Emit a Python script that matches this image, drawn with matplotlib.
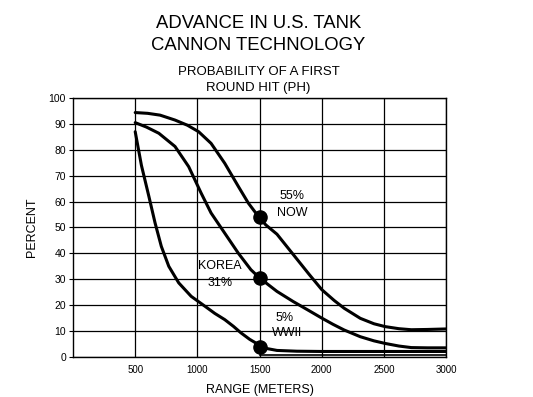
import matplotlib.pyplot as plt

plt.rcParams['font.family'] = ['Liberation Sans', 'DejaVu Sans']

# ranges (m) and hit probability (%)
now_x = [500, 600, 700, 820, 920, 1010, 1110, 1220, 1330, 1410, 1490, 1550, 1640, 1770, 1900, 2000, 2100, 2180, 2310, 2420, 2510, 2620, 2720, 2850, 3000]
now_y = [94.4, 94.1, 93.4, 91.5, 89.5, 87, 82.5, 74.8, 65.8, 59.4, 54.3, 51, 47.4, 39.6, 31.8, 26, 21.8, 18.8, 14.9, 12.8, 11.7, 10.9, 10.5, 10.6, 10.8]

korea_x = [500, 590, 690, 820, 930, 1030, 1110, 1220, 1330, 1430, 1500, 1640, 1770, 1900, 2000, 2090, 2180, 2310, 2420, 2510, 2620, 2720, 2850, 3000]
korea_y = [90.5, 88.8, 86.4, 81.3, 73.5, 63.3, 55.6, 47.8, 40, 33.7, 30.5, 25.3, 21.4, 17.8, 15, 12.6, 10.4, 7.8, 6.2, 5.2, 4.2, 3.6, 3.5, 3.5]

wwii_x = [500, 550, 610, 660, 710, 770, 850, 950, 1060, 1140, 1220, 1290, 1350, 1420, 1490, 1540, 1640, 1800, 2000, 2500, 3000]
wwii_y = [87, 74, 62, 51.7, 42.7, 35, 28.6, 23.4, 19.6, 16.8, 14.4, 11.8, 9.3, 6.8, 4.8, 3.4, 2.5, 2.2, 2.1, 2.1, 2.1]

dot_x = [1500, 1500, 1500]
dot_y = [54.2, 30.5, 4]

x_ticks = [500, 1000, 1500, 2000, 2500, 3000]
y_ticks = [0, 10, 20, 30, 40, 50, 60, 70, 80, 90, 100]

fig = plt.figure(figsize=(5.33, 3.97), dpi=100)
ax = fig.add_axes([0.137, 0.101, 0.700, 0.652])

for xs, ys in [(now_x, now_y), (korea_x, korea_y), (wwii_x, wwii_y)]:
    ax.plot(xs, ys, color='black', lw=2.2, solid_joinstyle='round', solid_capstyle='round')
ax.plot([1500, 3000], [0.7, 0.7], color='black', lw=1.2)
ax.scatter(dot_x, dot_y, s=90, color='black', zorder=5)

ax.set_xlim(0, 3000)
ax.set_ylim(0, 100)
ax.set_xticks(x_ticks)
ax.set_yticks(y_ticks)
ax.tick_params(axis='x', labelsize=7, length=0, pad=6)
ax.tick_params(axis='y', labelsize=7.5, length=3, pad=2)
ax.grid(True, color='black', lw=0.9)
for s in ax.spines.values():
    s.set_linewidth(1.0)

ax.text(1760, 62, '55%', fontsize=9, ha='center', va='center')
ax.text(1760, 55.5, 'NOW', fontsize=9, ha='center', va='center')
ax.text(1180, 35, 'KOREA', fontsize=9, ha='center', va='center')
ax.text(1180, 28.5, '31%', fontsize=9, ha='center', va='center')
ax.text(1700, 15, '5%', fontsize=9, ha='center', va='center')
ax.text(1720, 9.3, 'WWII', fontsize=9, ha='center', va='center')

ax.set_ylabel('PERCENT', fontsize=9, labelpad=8)
ax.set_xlabel('RANGE (METERS)', fontsize=9, labelpad=6)

fig.text(0.485, 0.942, 'ADVANCE IN U.S. TANK', fontsize=13.3, ha='center', va='center')
fig.text(0.485, 0.885, 'CANNON TECHNOLOGY', fontsize=13.3, ha='center', va='center')
fig.text(0.485, 0.818, 'PROBABILITY OF A FIRST', fontsize=9.5, ha='center', va='center')
fig.text(0.485, 0.778, 'ROUND HIT (PH)', fontsize=9.5, ha='center', va='center')

fig.savefig('out.png', dpi=100)
